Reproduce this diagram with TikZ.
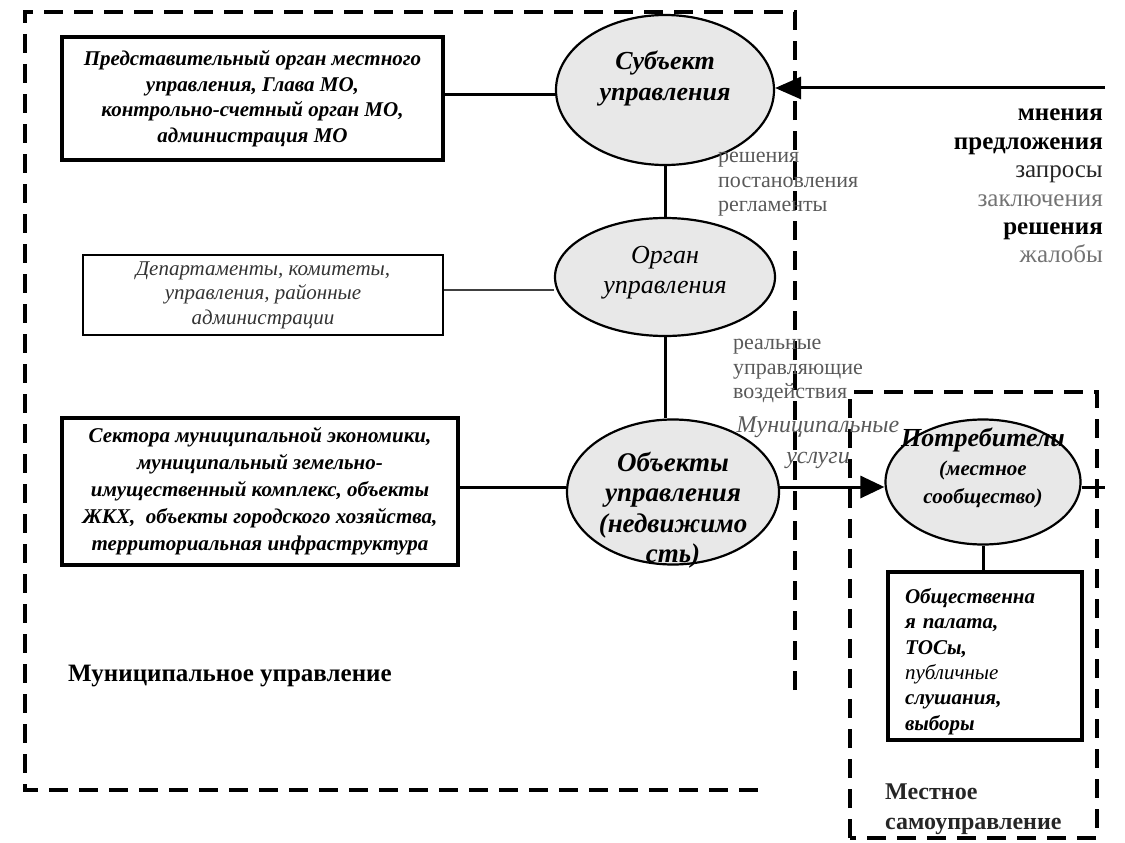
\documentclass[tikz,border=0pt]{standalone}
\usepackage{fontspec}
\setmainfont{Liberation Serif}
\usetikzlibrary{shapes.geometric,arrows.meta}
\definecolor{txtgrey}{gray}{0.35}
\begin{document}
\begin{tikzpicture}[x=1pt,y=-1pt,
  box/.style={draw, line width=3.2pt, inner sep=0pt, align=center},
  oval/.style={ellipse, draw, line width=2.2pt, fill=black!9, inner sep=0pt},
  ovaltext/.style={inner sep=0pt, align=center, font=\fontsize{26}{31}\selectfont\bfseries\itshape},
  link/.style={line width=3pt},
  dashbox/.style={line width=4.5pt, dash pattern=on 19pt off 11pt},
  boxfont/.style={font=\fontsize{21}{25.5}\selectfont\bfseries\itshape},
  sidefont/.style={font=\fontsize{22}{24.5}\selectfont, text=txtgrey, inner sep=0pt},
  flowfont/.style={font=\fontsize{25}{28.4}\selectfont, inner sep=0pt, align=right}
]
\useasboundingbox (0,0) rectangle (1125,843);

% dashed frames
\draw[dashbox] (795,690) -- (795,12) -- (25,12) -- (25,790) -- (765,790);
\draw[dashbox] (850,838) -- (850,392) -- (1097,392) -- (1097,838) -- cycle;

% ellipses
\node[oval, minimum width=218pt, minimum height=150pt] (subj) at (665,90) {};
\node[oval, minimum width=220pt, minimum height=118pt] (organ) at (665,277) {};
\node[oval, minimum width=212pt, minimum height=145pt] (obj) at (673,492) {};
\node[oval, minimum width=195pt, minimum height=125pt] (cons) at (983,482) {};

\node[ovaltext] (subjtxt) at ([yshift=12pt]subj.center) {Субъект\\управления};
\node[ovaltext, font=\fontsize{26}{30}\selectfont\itshape] (organtxt) at ([yshift=4pt]organ.center) {Орган\\управления};
\node[ovaltext, font=\fontsize{27}{30.5}\selectfont\bfseries\itshape] (objtxt) at ([yshift=-18pt]obj.center) {Объекты\\управления\\(недвижимо\\сть)};
\node[ovaltext, font=\fontsize{26}{28}\selectfont\bfseries\itshape] (constxt) at ([yshift=14pt]cons.center)
  {Потребители\\[1pt]{\fontsize{21}{24}\selectfont (местное}\\{\fontsize{21}{24}\selectfont сообщество)}};

% boxes
\node[box, boxfont, minimum width=381pt, minimum height=123pt] (box1) at (252.5,98.5)
  {Представительный орган местного\\управления, Глава МО,\\контрольно-счетный орган МО,\\администрация МО};
\node[box, line width=2.4pt, minimum width=360pt, minimum height=80pt, font=\fontsize{21}{24.5}\selectfont\itshape, text=black!80] (box2) at (263,295)
  {Департаменты, комитеты,\\управления, районные\\администрации};
\node[box, font=\fontsize{21}{27}\selectfont\bfseries\itshape, minimum width=396pt, minimum height=147pt] (box3) at (260,491.5)
  {Сектора муниципальной экономики,\\муниципальный земельно-\\имущественный комплекс, объекты\\ЖКХ,\ \ объекты городского хозяйства,\\территориальная инфраструктура};
\node[box, minimum width=194pt, minimum height=168pt, align=left, text width=160pt, font=\fontsize{21}{25.3}\selectfont\bfseries\itshape] (box4) at (985,656)
  {\rule{0pt}{26pt}Общественна\\я палата,\\ТОСы,\\{\mdseries публичные}\\слушания,\\выборы};

% connectors
\draw[link] (box1.east |- 0,95) coordinate (b1e) -- (b1e -| subj.west);
\draw[link, line width=2.4pt, draw=black!75] (box2.east |- 0,290) coordinate (b2e) -- (b2e -| organ.west);
\draw[link] (box3.east |- 0,487) coordinate (b3e) -- (b3e -| obj.west);
\draw[link] (subj.south) -- (subj.south |- organ.north);
\draw[link] (organ.south) -- (organ.south |- obj.north);
\draw[link] (cons.south) -- (cons.south |- box4.north);

\coordinate (inflow) at (1105,88);
\draw[link, -{Triangle[length=26pt,width=22pt]}] (inflow) -- (inflow -| subj.east);
\coordinate (objout) at (obj.east |- 0,487);
\draw[link, -{Triangle[length=24pt,width=22pt]}] (objout) -- (objout -| cons.west);
\coordinate (consout) at (1105,487);
\draw[link] (cons.east |- consout) -- (consout);

% side labels
\node[sidefont, align=left, anchor=north west] (dec) at (718,152) {решения\\постановления\\регламенты};
\node[sidefont, align=left, anchor=north west] (real) at (733,339) {реальные\\управляющие\\воздействия};
\node[font=\fontsize{24}{31}\selectfont\itshape, text=black!65, inner sep=0pt, align=center] (serv) at (818,443) {Муниципальные\\услуги};

\node[flowfont, anchor=north east] (flow) at (1103,109)
  {\textbf{мнения}\\\textbf{предложения}\\{\color{black!85}запросы}\\{\color{black!55}заключения}\\\textbf{решения}\\{\color{black!55}жалобы}};

\node[font=\fontsize{25}{28}\selectfont\bfseries, inner sep=0pt, anchor=west] (mun) at (68,676) {Муниципальное управление};
\node[font=\fontsize{24}{30}\selectfont\bfseries, inner sep=0pt, align=left, anchor=north west, text=black!85] (loc) at (885,784) {Местное\\самоуправление};
\end{tikzpicture}
\end{document}
